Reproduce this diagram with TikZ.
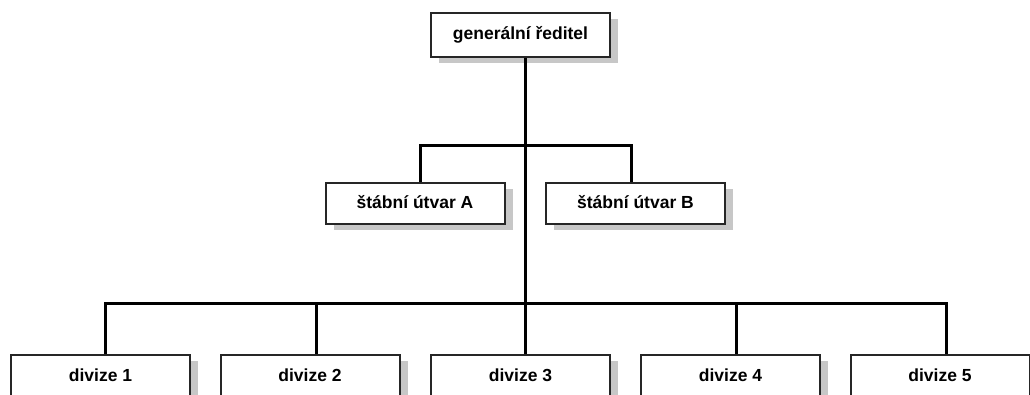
\documentclass[tikz,border=0pt]{standalone}
\usepackage{fontspec}
\setmainfont{Liberation Sans}
\usetikzlibrary{shadows}
\begin{document}
\begin{tikzpicture}[x=1pt,y=-1pt,
  orgbox/.style={draw=black!85, line width=2pt, fill=white,
    minimum width=179pt, minimum height=44pt, inner sep=0pt,
    font=\fontsize{17.5}{20}\selectfont\bfseries,
    text height=12.5pt, text depth=3.5pt,
    general shadow={fill=black!22, shadow xshift=8pt, shadow yshift=-6pt}},
  staffbox/.style={orgbox, minimum height=41pt},
  conn/.style={line width=3pt, black, line join=miter}]
  \useasboundingbox (0,0) rectangle (1030,394);
  \clip (0,0) rectangle (1030,394);

  % top of the hierarchy
  \node[orgbox] (gr) at (520.5,35) {generální ředitel};

  % staff units
  \node[staffbox] (sA) at (415,203.5) {štábní útvar A};
  \node[staffbox] (sB) at (635.5,203.5) {štábní útvar B};

  % divisions
  \node[orgbox] (d1) at (100.5,377) {divize 1};
  \node[orgbox] (d2) at (310,377) {divize 2};
  \node[orgbox] (d3) at (520.5,377) {divize 3};
  \node[orgbox] (d4) at (730.5,377) {divize 4};
  \node[orgbox] (d5) at (940,377) {divize 5};

  % junction points of the connector lines
  \coordinate (jS) at (525,145);
  \coordinate (jD) at (525,303);
  \coordinate (tA) at (420,145);
  \coordinate (tB) at (631,145);
  \coordinate (b1) at (105,303);
  \coordinate (b2) at (316,303);
  \coordinate (b4) at (736,303);
  \coordinate (b5) at (946,303);

  % trunk
  \draw[conn] (gr.south -| jS) -- (jD) -- (d3.north -| jD);
  % staff branch
  \draw[conn] (sA.north -| tA) -- (tA) -- (tB) -- (sB.north -| tB);
  % division branch
  \draw[conn] (d1.north -| b1) -- (b1) -- (b5) -- (d5.north -| b5);
  \draw[conn] (b2) -- (d2.north -| b2);
  \draw[conn] (b4) -- (d4.north -| b4);
\end{tikzpicture}
\end{document}
